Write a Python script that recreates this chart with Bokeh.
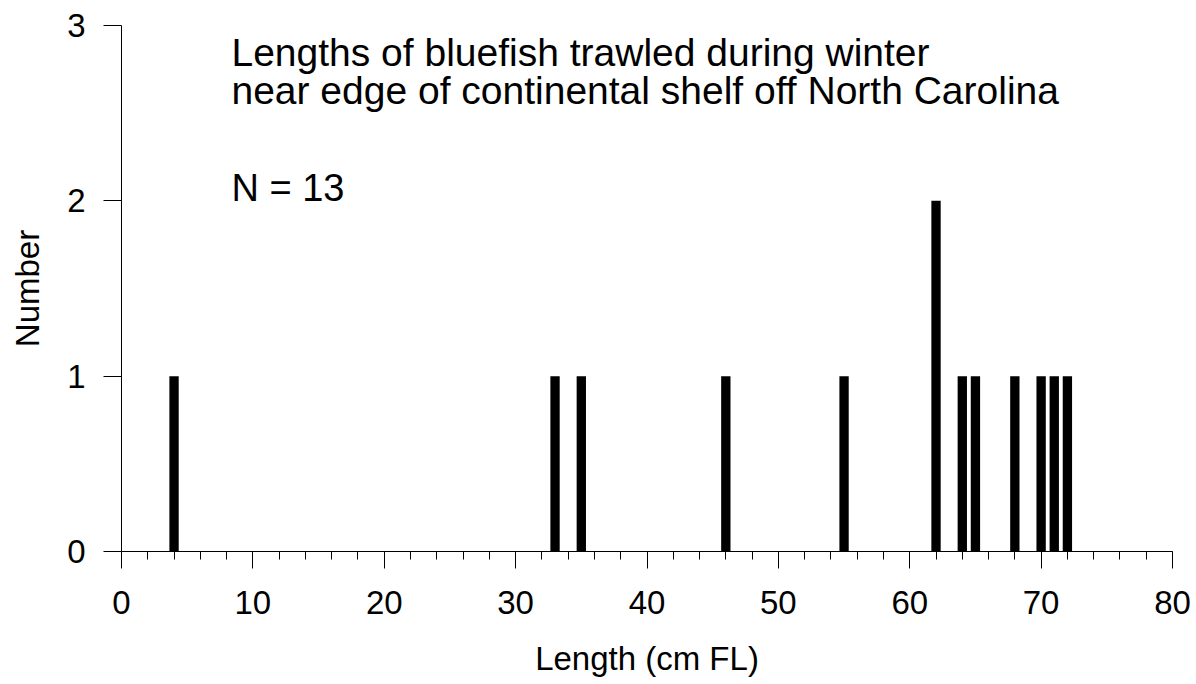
from bokeh.plotting import figure
from bokeh.models import Range1d, SingleIntervalTicker, ColumnDataSource
from bokeh.core.properties import value
from bokeh.embed import file_html
from bokeh.resources import INLINE

# Data
lengths = [4, 33, 35, 46, 55, 62, 64, 65, 68, 70, 71, 72]
counts = [1, 1, 1, 1, 1, 2, 1, 1, 1, 1, 1, 1]
title_lines = ["Lengths of bluefish trawled during winter",
               "near edge of continental shelf off North Carolina"]
n_label = "N = 13"
x_title = "Length (cm FL)"
y_title = "Number"

FONT = "Liberation Sans"

p = figure(width=1196, height=684, output_backend="svg", toolbar_location=None,
           x_range=Range1d(0, 80), y_range=Range1d(0, 3),
           min_border_left=121, min_border_right=24,
           min_border_top=25, min_border_bottom=133)
p.outline_line_color = None
p.xgrid.visible = False
p.ygrid.visible = False
p.background_fill_color = "white"
p.border_fill_color = "white"

src = ColumnDataSource(dict(x=lengths, top=counts))
p.vbar(x="x", top="top", bottom=0, width=0.71, source=src,
       fill_color="black", line_color=None)

xa = p.xaxis[0]
xa.ticker = SingleIntervalTicker(interval=10, num_minor_ticks=5)
xa.major_tick_out = 17
xa.major_tick_in = 0
xa.minor_tick_out = 8
xa.minor_tick_in = 0
xa.axis_line_color = "black"
xa.major_tick_line_color = "black"
xa.minor_tick_line_color = "black"
xa.major_label_text_font = FONT
xa.major_label_text_font_size = "33px"
xa.major_label_text_color = "black"
xa.major_label_standoff = 22
xa.axis_label = x_title
xa.axis_label_text_font = FONT
xa.axis_label_text_font_size = "33px"
xa.axis_label_text_font_style = "normal"
xa.axis_label_text_color = "black"
xa.axis_label_standoff = 23

ya = p.yaxis[0]
ya.ticker = SingleIntervalTicker(interval=1, num_minor_ticks=0)
ya.major_tick_out = 18
ya.major_tick_in = 0
ya.minor_tick_line_color = None
ya.axis_line_color = "black"
ya.major_tick_line_color = "black"
ya.major_label_text_font = FONT
ya.major_label_text_font_size = "33px"
ya.major_label_text_color = "black"
ya.major_label_standoff = 18
ya.axis_label = y_title
ya.axis_label_text_font = FONT
ya.axis_label_text_font_size = "33px"
ya.axis_label_text_font_style = "normal"
ya.axis_label_text_color = "black"
ya.axis_label_standoff = 18

p.text(x=[8.37, 8.37], y=[2.846, 2.629], text=title_lines,
       text_font=value(FONT), text_font_size="39px", text_color="black",
       text_baseline="middle", text_align="left")
p.text(x=[8.37], y=[2.076], text=[n_label],
       text_font=value(FONT), text_font_size="38px", text_color="black",
       text_baseline="middle", text_align="left")

open("out.html", "w").write(file_html(p, INLINE))
